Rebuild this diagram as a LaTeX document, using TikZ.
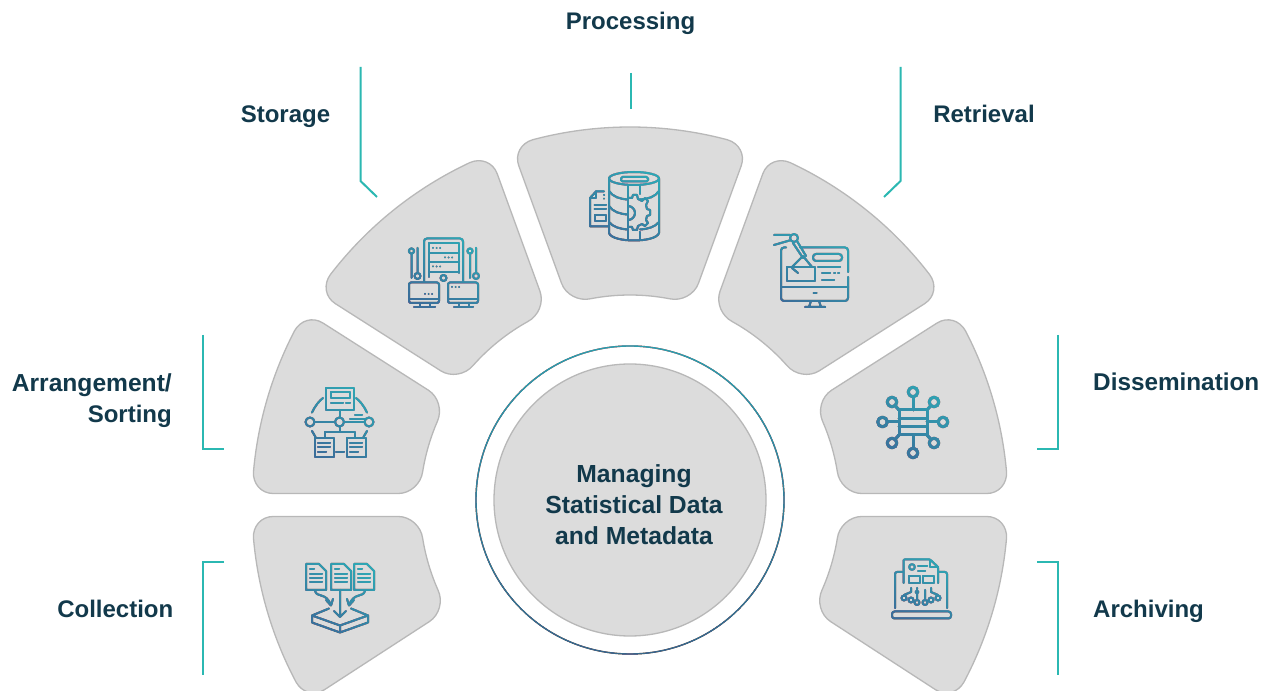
\documentclass[tikz,border=0pt]{standalone}
\usepackage{fontspec}
\usetikzlibrary{calc}
\setmainfont{Liberation Sans}[BoldFont={Liberation Sans Bold}]
\definecolor{secfill}{HTML}{DCDCDC}
\definecolor{secline}{HTML}{B8B8B8}
\definecolor{labelc}{HTML}{12394B}
\definecolor{tealline}{HTML}{2BB8B2}
\definecolor{icteal}{HTML}{2FA6B4}
\definecolor{icblue}{HTML}{3A6E9A}
\definecolor{ringtop}{HTML}{2E9CAB}
\definecolor{ringbot}{HTML}{38668A}
\tikzset{
  sector/.style={fill=secfill,draw=secline,line width=1.3pt},
  lbl/.style={font=\fontsize{24}{31}\selectfont\bfseries,text=labelc,inner sep=0pt},
  bracket/.style={draw=tealline,line width=2pt},
  ic/.style={draw=black,line width=2pt,line cap=round,line join=round,fill=none},
  icthick/.style={ic,line width=3pt},
  dotline/.style={ic,line width=2pt,dash pattern=on 0pt off 3.6pt},
  icg/.style={blend mode=lighten,top color=icteal,bottom color=icblue,shading angle=-30,draw=none}
}
\newcommand{\sect}[2]{%
  \draw[sector] (#1-1.846:357) .. controls (#1-1.786:369) and (#1-3.24:378) .. (#1-5.07:378)
    arc[start angle=#1-5.07,end angle=#2+5.07,radius=378]
    .. controls (#2+3.24:378) and (#2+1.786:369) .. (#2+1.846:357)
    -- (#2+2.84:232) .. controls (#2+3.0:220) and (#2+5.84:210) .. (#2+9.14:210)
    arc[start angle=#2+9.14,end angle=#1-9.14,radius=210]
    .. controls (#1-5.84:210) and (#1-3.0:220) .. (#1-2.84:232) -- cycle;}
\newcommand{\gr}[4]{\shade[icg] (#1,#2) rectangle (#3,#4);}
\begin{document}
\begin{tikzpicture}[x=1pt,y=1pt]
\useasboundingbox (0,0) rectangle (1270,691);
\clip (0,0) rectangle (1270,691);
\fill[white] (0,0) rectangle (1270,691);
% sectors
\begin{scope}[shift={(630,186)}]
\sect{110}{70}\sect{70}{32.5}\sect{32.5}{0}\sect{0}{-33}
\sect{147.5}{110}\sect{180}{147.5}\sect{213}{180}
\end{scope}
% everything below in image coordinates
\begin{scope}[shift={(0,691)},yscale=-1]
% centre
\coordinate (c) at (630,500);
\node[circle,minimum size=272pt,fill=secfill,draw=secline,line width=1.3pt,inner sep=0pt] (hub) at (c) {};
\draw[draw=black,line width=1.4pt] (c) circle (154);
\shade[blend mode=lighten,top color=ringtop,bottom color=ringbot,draw=none] (474,344) rectangle (786,656);
\node[lbl,align=center,font=\fontsize{24.7}{31}\selectfont\bfseries] (title) at (634,505) {Managing\\Statistical Data\\and Metadata};
% labels
\node[lbl,anchor=base] (processing) at (630.5,30) {Processing};
\node[lbl,anchor=base] (storage) at (285.5,122.5) {Storage};
\node[lbl,anchor=base] (retrieval) at (984,122.5) {Retrieval};
\node[lbl,align=right,anchor=east] (arrangement) at (172,400.5) {{\fontsize{24.6}{31}\selectfont Arrangement/}\\Sorting};
\node[lbl,anchor=base west,font=\fontsize{24.3}{31}\selectfont\bfseries] (dissemination) at (1093,391) {Dissemination};
\node[lbl,anchor=base east] (collection) at (173.5,617.5) {Collection};
\node[lbl,anchor=base west] (archiving) at (1093,617.5) {Archiving};
% brackets
\draw[bracket] (360.5,67) -- (360.5,181) -- (377,197);
\draw[bracket] (630.5,73) -- (630.5,109);
\draw[bracket] (900.5,67) -- (900.5,181) -- (884,197);
\draw[bracket] (203,335) -- (203,449) -- (224,449);
\draw[bracket] (1058,335) -- (1058,449) -- (1037,449);
\draw[bracket] (224,562) -- (203,562) -- (203,675);
\draw[bracket] (1037,562) -- (1058,562) -- (1058,675);

% --- Storage icon
\draw[ic,rounded corners=3pt] (424,282) -- (424,238.5) -- (463,238.5) -- (463,282);
\draw[ic] (429,277) -- (429,243.5) -- (459,243.5) -- (459,273);
\draw[ic] (429,253) -- (459,253) (429,262.5) -- (459,262.5) (429,272) -- (459,272);
\draw[dotline] (433,248) -- (443,248) (445,257.5) -- (455,257.5) (433,266.5) -- (443,266.5);
\draw[ic] (443.5,278) circle (3);
\draw[ic] (411.5,251) circle (2.6) (411.5,253.6) -- (411.5,278);
\draw[ic] (417.5,248) -- (417.5,273) (417.5,276) circle (3);
\draw[ic] (470,251) circle (2.6) (470,253.6) -- (470,278);
\draw[ic] (476,248) -- (476,273) (476,276) circle (3);
\draw[ic,rounded corners=2pt] (409,282.5) rectangle (439,303);
\draw[ic] (409.5,299.5) -- (438.5,299.5) (420,303) -- (420,307) (430,303) -- (430,307) (414,307) -- (435,307);
\draw[dotline] (425,294) -- (435,294);
\draw[ic,rounded corners=2pt] (448,282.5) rectangle (478,303);
\draw[ic] (448.5,299.5) -- (477.5,299.5) (459,303) -- (459,307) (469,303) -- (469,307) (454,307) -- (473,307);
\draw[dotline] (452,287) -- (462,287);
\gr{405}{235}{482}{310}

% --- Processing icon
\draw[ic] (634,178.5) ellipse (25 and 6.5);
\draw[ic,rounded corners=1.5pt] (621,177) rectangle (648,181.5);
\draw[ic] (609,178.5) -- (609,233) .. controls (612,243) and (656,243) .. (659,233) -- (659,178.5);
\draw[ic] (609,191) .. controls (613,197) and (620,199) .. (628,199.5)
  (640,199.5) .. controls (648,199) and (655,197) .. (659,191);
\draw[ic] (609,206) .. controls (613,212) and (620,214) .. (628,214.5);
\draw[ic] (609,222) .. controls (613,227) and (620,229) .. (628,229.5);
\draw[ic] (640,229.5) .. controls (648,229) and (655,227) .. (659,222);
\draw[ic] (628,185) -- (628,240) (640,185) -- (640,194) (640,232) -- (640,240);
\draw[ic] (628,206) arc[start angle=-90,end angle=90,radius=7];
\draw[ic] (628,198) -- (632,198) -- (633,195) -- (637,195) -- (638,199) -- (642,201) -- (645,198) -- (648,201) -- (646,205) -- (647,209) -- (650,210) -- (650,215) -- (647,216) -- (646,220) -- (648,223) -- (645,226) -- (642,224) -- (638,226) -- (637,230) -- (633,230) -- (632,227) -- (628,227);
\draw[ic] (604,191.5) -- (596,191.5) -- (590,198) -- (590,226.5) -- (608,226.5);
\draw[ic] (596,191.5) -- (596,198) -- (590,198);
\draw[ic] (594.5,205) -- (606,205) (594.5,209.5) -- (606,209.5);
\draw[ic] (595,215) rectangle (606,221);
\draw[dotline] (604,195) -- (604,201);
\gr{585}{168}{664}{244}

% --- Retrieval icon
\draw[ic,rounded corners=3pt] (786,247.5) -- (781,247.5) -- (781,301) -- (848,301) -- (848,277);
\draw[ic,rounded corners=3pt] (848,272) -- (848,247.5) -- (800,247.5);
\draw[ic] (781,287) -- (848,287);
\draw[ic] (813.5,293) -- (816.5,293);
\draw[ic] (811,301) -- (809,307) (819,301) -- (821,307) (805,307) -- (825,307);
\draw[ic] (794,238) circle (4);
\draw[ic] (774,235) -- (790,235) (774,245) -- (789.5,240.5);
\draw[ic] (793,243) -- (803,258) (797,241) -- (806,256);
\draw[ic] (803,256) -- (792,267) (803,256) -- (812,267);
\draw[ic] (787,267) rectangle (815,281.5);
\draw[ic] (792,268) -- (798,273);
\draw[ic,rounded corners=3pt] (813,254) rectangle (842,261);
\draw[ic] (818,267) -- (840,267) (822,280) -- (834,280);
\draw[ic] (822,273) -- (830,273) (834,273) -- (835,273) (838,273) -- (839,273);
\gr{770}{230}{852}{310}

% --- Arrangement icon
\draw[ic] (326,388) rectangle (354,410);
\draw[ic] (331,392.5) rectangle (350,398);
\draw[ic] (331,403.5) -- (343,403.5) (346,403.5) -- (350,403.5);
\draw[ic] (340,410) -- (340,417.5);
\draw[ic] (339.5,422) circle (4.5) (310,422) circle (4.5) (369,422) circle (4.5);
\draw[ic] (314.5,422) -- (335,422) (344,422) -- (364.5,422);
\draw[ic] (312,412.5) .. controls (315,406) and (319,401) .. (323,398);
\draw[ic] (367,412.5) .. controls (364,406) and (360,401) .. (356,398);
\draw[ic] (312,431) -- (315.5,437) (367,431) -- (363.5,437);
\draw[ic] (355,415.5) -- (362,415.5) (350,419) -- (365,419);
\draw[ic] (339.5,426.5) -- (339.5,432) (325,438) -- (325,432) -- (355,432) -- (355,438);
\draw[ic] (314.5,438.5) rectangle (334,457);
\draw[ic] (346.5,438.5) rectangle (366,457);
\draw[ic] (318,443.5) -- (330,443.5) (318,447.5) -- (330,447.5) (318,452.5) -- (326,452.5);
\draw[ic] (350,443.5) -- (362,443.5) (350,447.5) -- (362,447.5) (350,452.5) -- (358,452.5);
\draw[ic] (336,452) -- (344,452);
\gr{302}{384}{378}{460}

% --- Dissemination icon
\draw[icthick] (899,410) rectangle (927,435);
\draw[icthick] (899,418.5) -- (927,418.5) (899,427) -- (927,427);
\foreach \n/\x/\y/\ax/\ay in {a/913/392/913/410,b/913/453/913/435,d/882.5/422/899/422,e/943/422/927/422,f/892/402/899/410,g/934/402/927/410,h/892/443/899/435,i/934/443/927/435}{
  \draw[icthick] (\x,\y) circle (4.8);
  \draw[icthick] ($(\x,\y)!5pt!(\ax,\ay)$) -- (\ax,\ay);
}
\gr{872}{382}{954}{463}

% --- Collection icon
\foreach \x in {306,331,354}{
  \draw[ic] (\x,564) -- (\x+13,564) -- (\x+20,571) -- (\x+20,590) -- (\x,590) -- cycle;
  \draw[ic] (\x+4,574) -- (\x+16,574) (\x+4,578) -- (\x+16,578) (\x+4,582) -- (\x+16,582);
  \draw[ic] (\x+4,569) -- (\x+8,569);
}
\draw[ic] (315,591) .. controls (317,598) and (326,592) .. (331,605);
\draw[ic] (326,600) -- (331,605.5) -- (333,599);
\draw[ic] (365,591) .. controls (363,598) and (354,592) .. (349,605);
\draw[ic] (354,600) -- (349,605.5) -- (347,599);
\draw[ic] (340,590) -- (340,616.5) (334,611) -- (340,617) -- (346,611);
\draw[ic] (329,608.5) -- (312,615.5) -- (340,625.5) -- (368,615.5) -- (351,608.5);
\draw[ic] (312,615.5) -- (312,622.5) -- (340,632.5) -- (368,622.5) -- (368,615.5) (340,625.5) -- (340,632.5);
\gr{302}{560}{378}{636}

% --- Archiving icon
\draw[ic,rounded corners=2pt] (903,572) -- (895,572) -- (895,608);
\draw[ic,rounded corners=2pt] (938,572) -- (947,572) -- (947,608);
\draw[ic,rounded corners=2.5pt] (892,611.5) rectangle (951,618.5);
\draw[ic,rounded corners=1pt] (903.5,583) -- (903.5,559.5) -- (930,559.5) -- (938,567) -- (938,583);
\draw[ic] (930,559.5) -- (930,567) -- (938,567);
\draw[ic] (912,567) circle (2.8);
\draw[ic] (918,566.5) -- (927,566.5) (918,571) -- (925,571);
\draw[ic] (908.5,576) rectangle (920,583) (923,576) rectangle (933.5,583);
\draw[ic] (911,588) -- (911,592) -- (904,595);
\draw[ic] (904,598) circle (2.5) (917,588) -- (917,589) (917,592) circle (1.5) (911,600) circle (2.5);
\draw[ic] (917,594) -- (917,600) (917,602.5) circle (2.5);
\draw[ic] (925,590) -- (925,600) (925,602.5) circle (2.5);
\draw[ic] (931,588) -- (931,592) -- (938,595) (938,598) circle (2.5) (931,600) circle (2.5);
\gr{888}{556}{956}{622}
\end{scope}
\end{tikzpicture}
\end{document}
